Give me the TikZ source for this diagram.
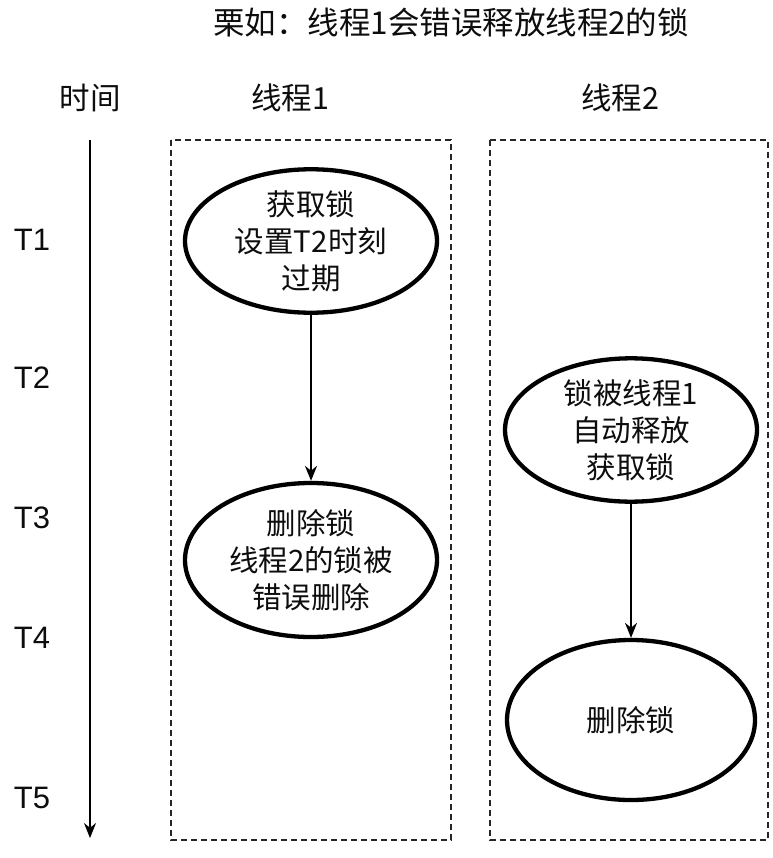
\documentclass[tikz,border=0pt]{standalone}
\usepackage{fontspec}
\setmainfont{Liberation Sans}
\newfontfamily\cjk{Noto Sans CJK SC}
\usetikzlibrary{shapes.geometric,arrows.meta}
\tikzset{
  every node/.style={inner sep=0pt, text=black!95},
  lane/.style={draw=black!85, line width=1.5pt, dash pattern=on 6pt off 4pt},
  bubble/.style={draw=black, ellipse, line width=4.3pt, inner sep=0pt, align=center,
     font=\cjk\fontsize{29.5}{37}\selectfont},
  flow/.style={draw=black, line width=1.5pt, -{Stealth[length=15pt,width=12pt]}},
  tlabel/.style={font=\fontsize{31}{36}\selectfont},
  head/.style={font=\cjk\fontsize{30.5}{36}\selectfont},
}
\begin{document}
\begin{tikzpicture}[x=1pt,y=-1pt]
\useasboundingbox (0,0) rectangle (772,858);
\fill[white] (0,0) rectangle (772,858);
% title and headers
\node[font=\cjk\fontsize{31.5}{38}\selectfont] (title) at (451,22) {栗如：线程1会错误释放线程2的锁};
\node[head] (hTime) at (90,98) {时间};
\node[head] (hT1) at (290,98) {线程1};
\node[head] (hT2) at (620,98) {线程2};
% lanes
\draw[lane] (171,140) rectangle (451,840);
\draw[lane] (490,140) rectangle (768,840);
% time axis
\coordinate (axTop) at (90,140);
\coordinate (axBot) at (90,838);
\draw[flow] (axTop) -- (axBot);
\node[tlabel] (t1) at (32,240) {T1};
\node[tlabel] (t2) at (32,378) {T2};
\node[tlabel] (t3) at (32,518) {T3};
\node[tlabel] (t4) at (32,638) {T4};
\node[tlabel] (t5) at (32,798) {T5};
% ellipses
\node[bubble, minimum width=252pt, minimum height=127pt] (e1) at (311,241) {获取锁\\设置T2时刻\\过期};
\node[bubble, minimum width=252pt, minimum height=154pt] (e2) at (311,560) {删除锁\\线程2的锁被\\错误删除};
\node[bubble, minimum width=252pt, minimum height=140pt] (e3) at (631,430) {锁被线程1\\自动释放\\获取锁};
\node[bubble, minimum width=248pt, minimum height=160pt] (e4) at (631,720) {删除锁};
% connectors
\draw[flow] (e1.south) -- (e2.north);
\draw[flow] (e3.south) -- (e4.north);
\end{tikzpicture}
\end{document}
